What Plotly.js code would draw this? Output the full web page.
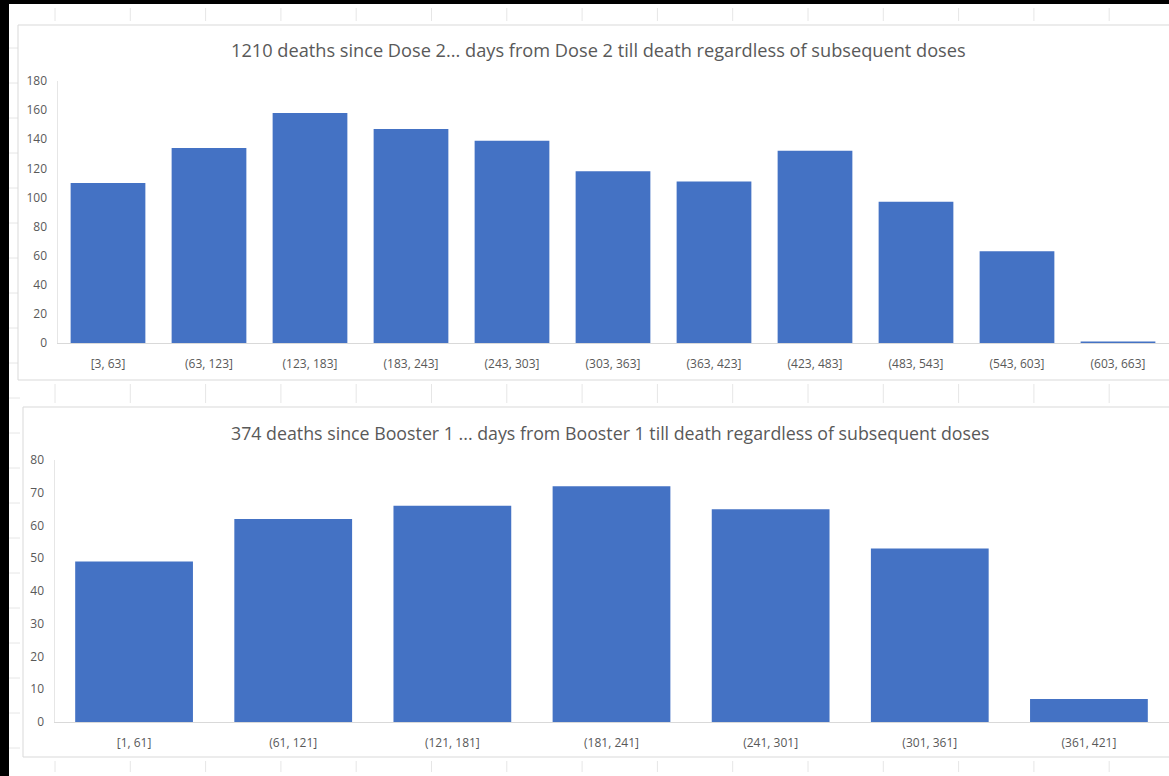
<!DOCTYPE html>
<html>
<head>
<meta charset="utf-8">
<script src="https://cdn.plot.ly/plotly-3.0.1.min.js"></script>
<style>html,body{margin:0;padding:0;background:#fff;}#chart{width:1169px;height:776px;}</style>
</head>
<body>
<div id="chart"></div>
<script>
// Chart 1: days from Dose 2 till death
const dose2Bins = ["[3, 63]", "(63, 123]", "(123, 183]", "(183, 243]", "(243, 303]", "(303, 363]", "(363, 423]", "(423, 483]", "(483, 543]", "(543, 603]", "(603, 663]"];
const dose2Deaths = [110, 134, 158, 147, 139, 118, 111, 132, 97, 63, 1];
const dose2Title = "1210 deaths since Dose 2... days from Dose 2 till death regardless of subsequent doses";

// Chart 2: days from Booster 1 till death
const boosterBins = ["[1, 61]", "(61, 121]", "(121, 181]", "(181, 241]", "(241, 301]", "(301, 361]", "(361, 421]"];
const boosterDeaths = [49, 62, 66, 72, 65, 53, 7];
const boosterTitle = "374 deaths since Booster 1 ... days from Booster 1 till death regardless of subsequent doses";

const W = 1169, H = 776;
const px = v => v / W;
const py = v => 1 - v / H;

const barColor = "#4472C4";
const textColor = "#595959";
const fontFam = "'Open Sans', Lato, sans-serif";

const traces = [
  {type: "bar", x: dose2Bins, y: dose2Deaths, xaxis: "x", yaxis: "y",
   marker: {color: barColor}, hoverinfo: "x+y"},
  {type: "bar", x: boosterBins, y: boosterDeaths, xaxis: "x2", yaxis: "y2",
   marker: {color: barColor}, hoverinfo: "x+y"}
];

// Background decoration: sheet frame, chart boxes, faint cell lines
const shapes = [];
const gridCol = "#e6e6e6";
for (let i = 0; i < 15; i++) {
  const xx = 55 + i * 75.3;
  [[4, 25], [380, 407], [757, 776]].forEach(([a, b]) => {
    shapes.push({type: "line", xref: "paper", yref: "paper", layer: "below",
      x0: px(xx), x1: px(xx), y0: py(a + 4), y1: py(b - 4), line: {color: gridCol, width: 1}});
  });
}
for (let yy = 48; yy < 776; yy += 35) {
  shapes.push({type: "line", xref: "paper", yref: "paper", layer: "below",
    x0: px(9), x1: px(20), y0: py(yy), y1: py(yy), line: {color: gridCol, width: 1}});
}
shapes.push({type: "rect", xref: "paper", yref: "paper", layer: "below",
  x0: px(18), x1: px(1172), y0: py(380), y1: py(25), fillcolor: "#ffffff", line: {color: "#d9d9d9", width: 1}});
shapes.push({type: "rect", xref: "paper", yref: "paper", layer: "below",
  x0: px(23), x1: px(1172), y0: py(757), y1: py(407), fillcolor: "#ffffff", line: {color: "#d9d9d9", width: 1}});
shapes.push({type: "rect", xref: "paper", yref: "paper", layer: "above",
  x0: 0, x1: px(9), y0: 0, y1: 1, fillcolor: "#000000", line: {width: 0}});
shapes.push({type: "rect", xref: "paper", yref: "paper", layer: "above",
  x0: 0, x1: 1, y0: py(4), y1: 1, fillcolor: "#000000", line: {width: 0}});

const xCommon = {
  type: "category", showgrid: false, zeroline: false, ticks: "",
  showline: true, linecolor: "#d9d9d9", linewidth: 1,
  tickfont: {family: fontFam, size: 12, color: textColor},
  ticklabelstandoff: 10, fixedrange: true
};
const yCommon = {
  showgrid: false, zeroline: false, ticks: "",
  showline: true, linecolor: "#e6e6e6", linewidth: 1,
  tickfont: {family: fontFam, size: 12, color: textColor},
  ticklabelstandoff: 7, fixedrange: true
};

const layout = {
  width: W, height: H,
  margin: {l: 0, r: 0, t: 0, b: 0},
  paper_bgcolor: "#ffffff", plot_bgcolor: "rgba(0,0,0,0)",
  showlegend: false, bargap: 0.26,
  font: {family: fontFam, color: textColor},
  xaxis: Object.assign({}, xCommon, {domain: [px(57.5), px(1168.5)], anchor: "y"}),
  yaxis: Object.assign({}, yCommon, {domain: [py(343), py(81)], range: [0, 180], dtick: 20, anchor: "x"}),
  xaxis2: Object.assign({}, xCommon, {domain: [px(54.5), px(1168.5)], anchor: "y2"}),
  yaxis2: Object.assign({}, yCommon, {domain: [py(722), py(460)], range: [0, 80], dtick: 10, anchor: "x2"}),
  annotations: [
    {text: dose2Title, xref: "paper", yref: "paper", x: px(598), y: py(50),
     xanchor: "center", yanchor: "middle", showarrow: false,
     font: {family: fontFam, size: 18.2, color: textColor}},
    {text: boosterTitle, xref: "paper", yref: "paper", x: px(610), y: py(433),
     xanchor: "center", yanchor: "middle", showarrow: false,
     font: {family: fontFam, size: 17.8, color: textColor}}
  ],
  shapes: shapes
};

Plotly.newPlot("chart", traces, layout, {displayModeBar: false, staticPlot: true});
</script>
</body>
</html>
